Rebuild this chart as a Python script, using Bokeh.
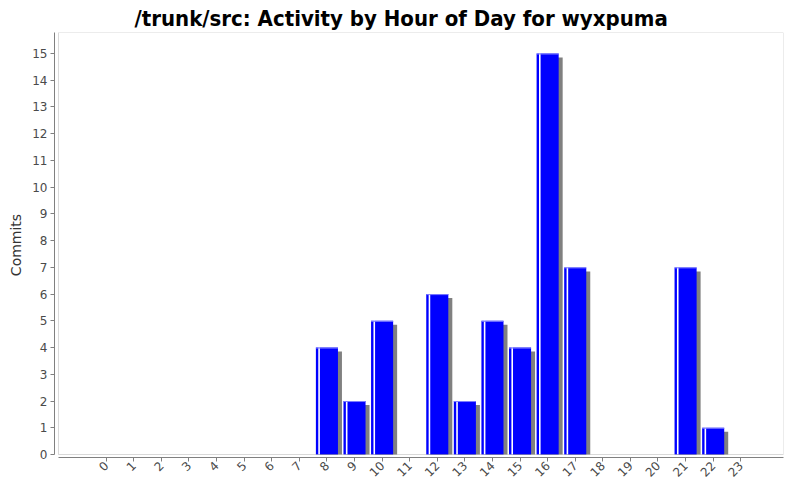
import math
from bokeh.plotting import figure
from bokeh.models import Range1d, FixedTicker, BoxAnnotation
from bokeh.embed import file_html
from bokeh.resources import INLINE

# ---- data ----
hours = list(range(24))
commits = [0, 0, 0, 0, 0, 0, 0, 0, 4, 2, 5, 0, 6, 2, 5, 4, 15, 7, 0, 0, 0, 7, 1, 0]
y_ticks = list(range(16))
title_text = "/trunk/src: Activity by Hour of Day for wyxpuma"
y_label = "Commits"

# ---- geometry ----
BL, BR, BT, BB = 54, 1, 32, 27
W, H = 784, 484
FW = W - BL - BR
FH = H - BT - BB
X0, X1 = -1.874, 24.549
Y0, Y1 = -0.112, 15.786
xu = FW / (X1 - X0)
yu = FH / (Y1 - Y0)

p = figure(width=W, height=H, output_backend="svg", toolbar_location=None,
           x_range=Range1d(X0, X1), y_range=Range1d(Y0, Y1),
           min_border_left=BL, min_border_right=BR, min_border_top=BT, min_border_bottom=BB,
           title=title_text)
p.outline_line_color = None
p.xgrid.visible = False
p.ygrid.visible = False
p.background_fill_color = "white"
p.border_fill_color = "white"

p.title.align = "left"
p.title.offset = 80
p.title.text_font = "DejaVu Sans Condensed"
p.title.text_font_style = "bold"
p.title.text_font_size = "22px"
p.title.text_color = "#000000"
p.title.standoff = 3

xs = [h for h, c in zip(hours, commits) if c > 0]
vs = [c for c in commits if c > 0]
bw = 0.8
dx = 4 / xu
dy = 4 / yu

# shadows
p.quad(left=[x - bw / 2 + dx for x in xs], right=[x + bw / 2 + dx for x in xs],
       top=[v - dy for v in vs], bottom=[0] * len(xs),
       fill_color="#808080", line_color=None)
# bars
p.quad(left=[x - bw / 2 for x in xs], right=[x + bw / 2 for x in xs],
       top=vs, bottom=[0] * len(xs), fill_color="#0000FF", line_color=None)
# highlight strips
hx = [x - bw / 2 + 3.2 / xu for x in xs]
p.segment(x0=hx, x1=hx, y0=[0] * len(xs), y1=vs, line_color="#ffffff", line_width=1.6)
p.segment(x0=[x - bw / 2 for x in xs], x1=[x + bw / 2 for x in xs],
          y0=[v - 0.5 / yu for v in vs], y1=[v - 0.5 / yu for v in vs],
          line_color="#8080ff", line_width=1)

# inner plot border
inner_left = X0 + 4 / xu
p.add_layout(BoxAnnotation(left=inner_left, bottom=0, fill_alpha=0, fill_color=None,
                           line_color="#808080", line_width=1, level="overlay"))

for ax in (p.xaxis[0], p.yaxis[0]):
    ax.axis_line_color = "#808080"
    ax.major_tick_line_color = "#808080"
    ax.minor_tick_line_color = None
    ax.major_tick_in = 0
    ax.major_tick_out = 4
    ax.major_label_text_font = "DejaVu Sans"
    ax.major_label_text_font_size = "12px"
    ax.major_label_text_color = "#4a4a4a"

p.xaxis[0].ticker = FixedTicker(ticks=hours)
p.xaxis[0].bounds = (inner_left, X1)
p.xaxis[0].major_label_orientation = math.pi / 4
p.xaxis[0].major_label_standoff = 2

p.yaxis[0].ticker = FixedTicker(ticks=y_ticks)
p.yaxis[0].bounds = (0, Y1)
p.yaxis[0].major_label_standoff = 3
p.yaxis[0].axis_label = y_label
p.yaxis[0].axis_label_text_font = "DejaVu Sans"
p.yaxis[0].axis_label_text_font_style = "normal"
p.yaxis[0].axis_label_text_font_size = "14px"
p.yaxis[0].axis_label_text_color = "#333333"
p.yaxis[0].axis_label_standoff = 5

open("out.html", "w").write(file_html(p, INLINE))
